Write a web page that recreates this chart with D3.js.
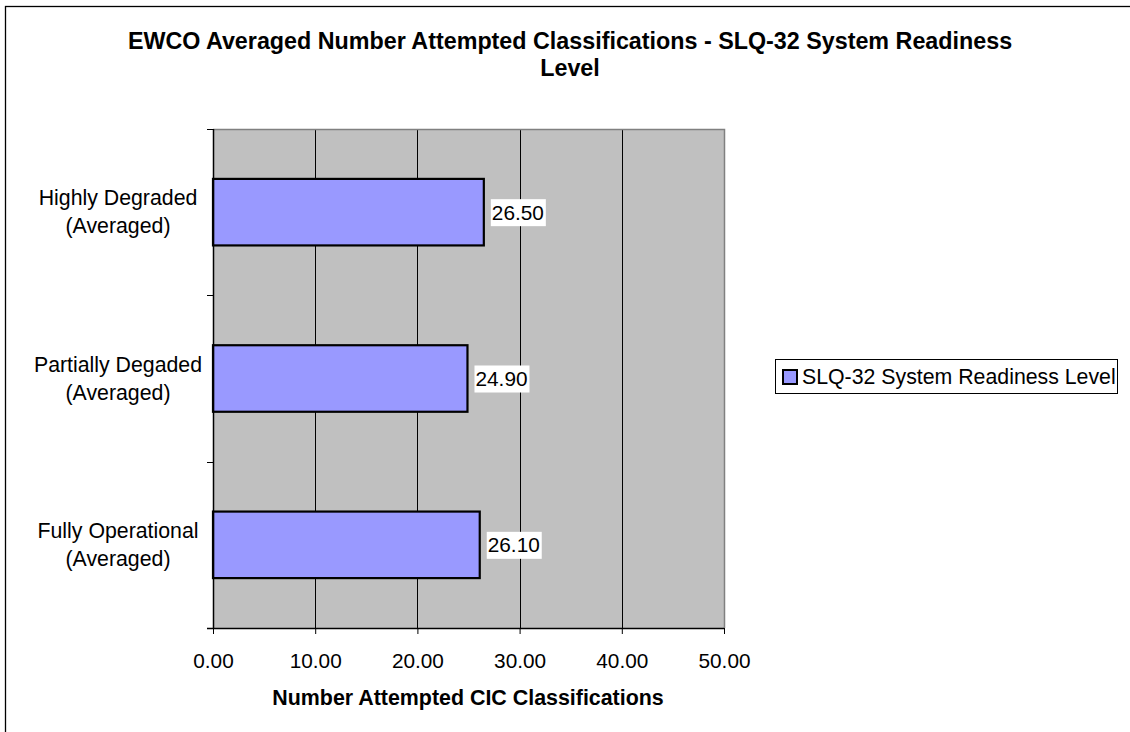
<!DOCTYPE html>
<html>
<head>
<meta charset="utf-8">
<script src="https://cdn.jsdelivr.net/npm/d3@7"></script>
<style>
  html, body { margin: 0; padding: 0; background: #fff; }
  svg { display: block; }
  text { font-family: "Liberation Sans", Arial, sans-serif; }
</style>
</head>
<body>
<svg id="chart" width="1130" height="732"></svg>
<script>
const titleLines = ["EWCO Averaged Number Attempted Classifications - SLQ-32 System Readiness", "Level"];
const categories = [["Highly Degraded", "(Averaged)"], ["Partially Degaded", "(Averaged)"], ["Fully Operational", "(Averaged)"]];
const values = [26.50, 24.90, 26.10];
const xTicks = [0, 10, 20, 30, 40, 50];
const seriesName = "SLQ-32 System Readiness Level";
const xTitle = "Number Attempted CIC Classifications";

const svg = d3.select("#chart");
const plot = { left: 213, right: 724, top: 129, bottom: 628 };

// outer frame
svg.append("rect").attr("x", 5.5).attr("y", 6.5).attr("width", 1200).attr("height", 800)
  .attr("fill", "#fff").attr("stroke", "#000").attr("stroke-width", 1.3);

// title
svg.append("text").attr("x", 570).attr("y", 49).attr("text-anchor", "middle")
  .attr("font-weight", "bold").attr("font-size", 23.3)
  .selectAll("tspan").data(titleLines).join("tspan")
  .attr("x", 570).attr("dy", (d, i) => i === 0 ? 0 : 27).text(d => d);

const x = d3.scaleLinear().domain([0, 50]).range([plot.left, plot.right]);
const y = d3.scaleBand().domain(d3.range(categories.length)).range([plot.top, plot.bottom]).paddingInner(0.6).paddingOuter(0.3);

// plot background
svg.append("rect").attr("x", plot.left).attr("y", plot.top)
  .attr("width", plot.right - plot.left).attr("height", plot.bottom - plot.top)
  .attr("fill", "#c0c0c0");

// gridlines
svg.append("g").selectAll("line").data(xTicks.filter(t => t > 0 && t < 50)).join("line")
  .attr("x1", d => Math.round(x(d)) + 0.5).attr("x2", d => Math.round(x(d)) + 0.5)
  .attr("y1", plot.top).attr("y2", plot.bottom)
  .attr("stroke", "#000").attr("stroke-width", 1);

// top and right border (gray)
svg.append("path")
  .attr("d", `M${plot.left},${plot.top + 0.5}H${plot.right + 0.5}V${plot.bottom}`)
  .attr("fill", "none").attr("stroke", "#808080").attr("stroke-width", 1.5);

// bars
svg.append("g").selectAll("rect").data(values).join("rect")
  .attr("x", x(0)).attr("y", (d, i) => y(i))
  .attr("width", d => x(d) - x(0)).attr("height", y.bandwidth())
  .attr("fill", "#9999ff").attr("stroke", "#000").attr("stroke-width", 2.2);

// value labels
const lab = svg.append("g").selectAll("g").data(values).join("g")
  .attr("transform", (d, i) => `translate(${x(d) + 7},${y(i) + y.bandwidth() / 2})`);
lab.append("rect").attr("x", 0).attr("y", -13).attr("width", 55).attr("height", 27).attr("fill", "#fff");
lab.append("text").attr("x", 1).attr("y", 7.5).attr("font-size", 20.8).attr("fill", "#000")
  .text(d => d.toFixed(2));

// y axis: ticks at band boundaries
const bandEdges = d3.range(categories.length + 1).map(i => plot.top + i * (plot.bottom - plot.top) / categories.length);
svg.append("line").attr("x1", plot.left + 0.5).attr("x2", plot.left + 0.5)
  .attr("y1", plot.top).attr("y2", plot.bottom).attr("stroke", "#000").attr("stroke-width", 1.5);
svg.append("g").selectAll("line").data(bandEdges).join("line")
  .attr("x1", plot.left - 6).attr("x2", plot.left)
  .attr("y1", d => Math.round(d) + 0.5).attr("y2", d => Math.round(d) + 0.5)
  .attr("stroke", "#000").attr("stroke-width", 1);

// category labels
const catG = svg.append("g").selectAll("text").data(categories).join("text")
  .attr("text-anchor", "middle").attr("font-size", 21.3).attr("fill", "#000")
  .attr("transform", (d, i) => `translate(118,${y(i) + y.bandwidth() / 2})`);
catG.selectAll("tspan").data(d => d).join("tspan")
  .attr("x", 0).attr("y", (d, i) => i === 0 ? -7 : 21).text(d => d);

// x axis
const xAxis = d3.axisBottom(x).tickValues(xTicks).tickSize(6).tickSizeOuter(0)
  .tickFormat(d => d.toFixed(2));
const gx = svg.append("g").attr("transform", `translate(0,${plot.bottom})`).call(xAxis);
gx.select(".domain").attr("stroke", "#000").attr("stroke-width", 1.5)
  .attr("d", `M${plot.left - 6},0.5H${plot.right}`);
gx.selectAll(".tick line").attr("stroke", "#000");
gx.selectAll(".tick text").attr("font-size", 20.8).attr("fill", "#000")
  .attr("font-family", "'Liberation Sans', Arial, sans-serif").attr("dy", 0).attr("y", 40);

// x title
svg.append("text").attr("x", 468).attr("y", 705).attr("text-anchor", "middle")
  .attr("font-weight", "bold").attr("font-size", 21.4).text(xTitle);

// legend
const lg = svg.append("g");
lg.append("rect").attr("x", 775.5).attr("y", 359.5).attr("width", 342).attr("height", 34)
  .attr("fill", "#fff").attr("stroke", "#000").attr("stroke-width", 1);
lg.append("rect").attr("x", 783).attr("y", 370).attr("width", 14).attr("height", 14)
  .attr("fill", "#9999ff").attr("stroke", "#000").attr("stroke-width", 2);
lg.append("text").attr("x", 802).attr("y", 384).attr("font-size", 21.3).attr("fill", "#000").text(seriesName);
</script>
</body>
</html>
